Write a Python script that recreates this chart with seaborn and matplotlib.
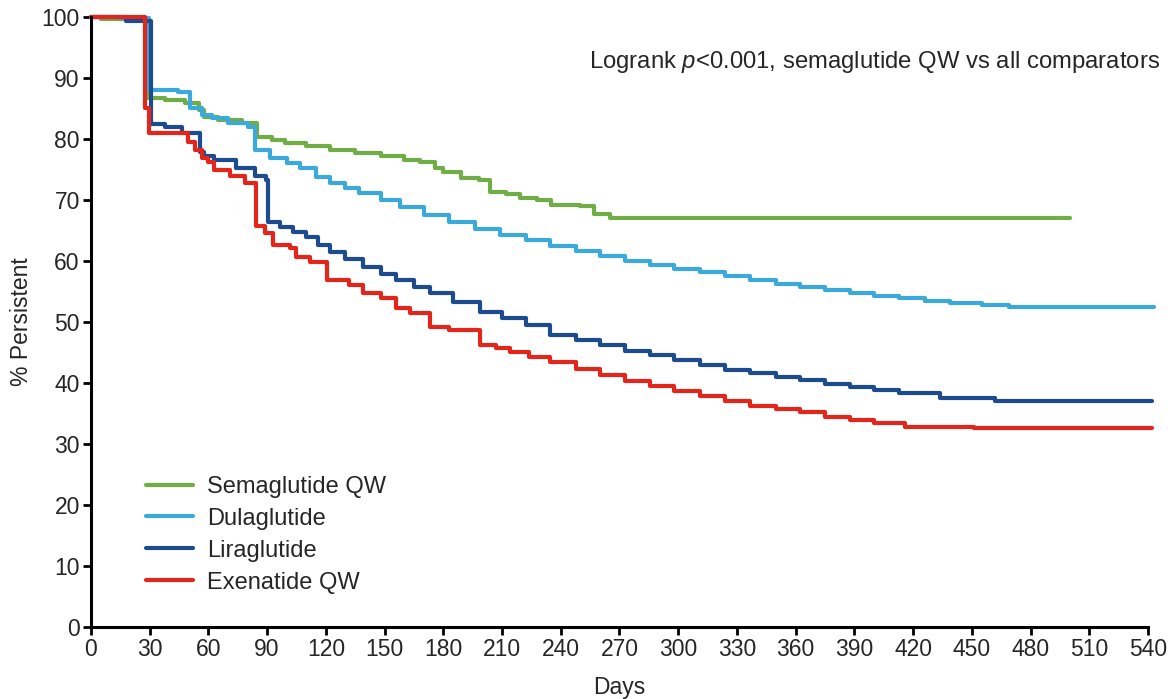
import matplotlib
matplotlib.use('Agg')
import matplotlib.pyplot as plt
import seaborn as sns
import pandas as pd

# Kaplan-Meier step points (day, % persistent)
sema_days = [0, 5, 27, 29, 38, 48, 55, 58, 65, 77, 85, 92.5, 99, 110, 122, 135, 148, 160, 168, 176, 180, 189, 198, 204, 212, 219, 228, 235, 250, 257, 265, 500]
sema_pct = [100, 99.7, 99.5, 86.7, 86.4, 85.9, 84.8, 83.6, 83.1, 82.6, 80.3, 79.8, 79.3, 78.8, 78.2, 77.7, 77.2, 76.6, 76.2, 75.2, 74.6, 73.6, 73.3, 71.3, 71.0, 70.3, 70.0, 69.2, 69.0, 67.7, 67.0, 67.0]

dula_days = [0, 15, 29.5, 44.5, 50.6, 56.7, 62, 70, 80, 84, 91.5, 100, 107, 115, 122, 130, 137, 148, 158, 170, 183, 196, 209, 222, 234.5, 248, 260, 273, 285.6, 298, 311, 324, 336.7, 350, 362, 375, 388, 400, 413, 426, 439, 455, 469, 543]
dula_pct = [100, 99.8, 88.0, 87.7, 85.0, 83.9, 83.4, 82.6, 82.0, 78.2, 76.9, 76.0, 75.2, 73.8, 72.8, 72.0, 71.1, 70.0, 68.9, 67.6, 66.4, 65.3, 64.3, 63.4, 62.5, 61.6, 60.8, 60.0, 59.3, 58.7, 58.2, 57.5, 56.9, 56.2, 55.7, 55.2, 54.8, 54.3, 53.9, 53.5, 53.1, 52.8, 52.5, 52.5]

lira_days = [0, 18, 30.5, 38, 46.5, 55.7, 58, 63, 74, 84, 89.4, 90.5, 96.6, 103, 110, 116, 122, 130, 139, 148, 156, 165, 173, 185, 199, 210, 222, 234.5, 248, 260, 273, 285.6, 298, 311, 324, 336.7, 350, 362, 375, 388, 400, 413, 434, 462, 542]
lira_pct = [100, 99.3, 82.5, 82.0, 81.0, 77.9, 77.2, 76.6, 75.2, 73.9, 73.3, 66.4, 65.6, 64.8, 63.9, 62.6, 61.5, 60.3, 59.0, 57.9, 56.9, 55.8, 54.7, 53.2, 51.6, 50.6, 49.5, 47.9, 47.0, 46.2, 45.3, 44.6, 43.7, 42.9, 42.2, 41.6, 41.0, 40.5, 39.9, 39.3, 38.8, 38.4, 37.5, 37.0, 37.0]

exen_days = [0, 27.5, 29.5, 49.7, 53, 56.7, 60, 63, 71, 78.7, 84.3, 89, 93, 101.7, 105, 112, 120.6, 132, 139, 148, 156, 163, 173, 183, 199, 207, 214, 224, 234.5, 248, 260, 273, 285.6, 298, 311, 324, 336.7, 350, 362, 375, 388, 400, 416, 451, 542]
exen_pct = [100, 85.0, 81.0, 79.5, 78.2, 76.9, 76.2, 74.9, 73.9, 72.8, 65.7, 64.6, 62.6, 62.1, 60.7, 59.8, 56.9, 56.0, 54.7, 53.9, 52.3, 51.5, 49.2, 48.7, 46.2, 45.8, 45.1, 44.2, 43.4, 42.3, 41.3, 40.3, 39.5, 38.7, 37.9, 37.0, 36.2, 35.7, 35.2, 34.5, 33.9, 33.4, 32.8, 32.6, 32.6]

drugs = ['Semaglutide QW', 'Dulaglutide', 'Liraglutide', 'Exenatide QW']
colors = ['#70AD47', '#3CA9DC', '#1C4C8E', '#E2261C']

frames = []
for name, d, p in zip(drugs, [sema_days, dula_days, lira_days, exen_days],
                      [sema_pct, dula_pct, lira_pct, exen_pct]):
    frames.append(pd.DataFrame({'Days': d, 'Persistent': p, 'Drug': name}))
df = pd.concat(frames, ignore_index=True)

sns.set_style('ticks')
plt.rcParams['font.family'] = ['Liberation Sans', 'DejaVu Sans']
plt.rcParams['mathtext.fontset'] = 'custom'
plt.rcParams['mathtext.it'] = 'Liberation Sans:italic'
plt.rcParams['mathtext.rm'] = 'Liberation Sans'

fig = plt.figure(figsize=(11.72, 6.99), dpi=100)
ax = fig.add_axes([0.0776, 0.103, 0.9019, 0.8727])

sns.lineplot(data=df, x='Days', y='Persistent', hue='Drug', hue_order=drugs,
             palette=colors, drawstyle='steps-post', linewidth=3,
             estimator=None, ax=ax, clip_on=False)

ax.set_xlim(0, 540)
ax.set_ylim(0, 100)
ax.set_xticks(range(0, 541, 30))
ax.set_yticks(range(0, 101, 10))
ax.tick_params(axis='both', labelsize=16.5, width=2, length=6, color='black', pad=2)
for side in ['left', 'bottom']:
    ax.spines[side].set_linewidth(2.2)
    ax.spines[side].set_color('black')
sns.despine(ax=ax)

ax.set_xlabel('Days', fontsize=16.5, labelpad=11)
ax.set_ylabel('% Persistent', fontsize=16.5, labelpad=6)

leg = ax.legend(loc='lower left', bbox_to_anchor=(0.032, 0.02), frameon=False,
                fontsize=17, handlelength=2.0, handletextpad=0.6, labelspacing=0.42)
for line in leg.get_lines():
    line.set_linewidth(3)

fig.text(0.99, 0.912, r'Logrank $\it{p}$<0.001, semaglutide QW vs all comparators',
         ha='right', va='center', fontsize=17.2)

fig.savefig('out.png', dpi=100)
